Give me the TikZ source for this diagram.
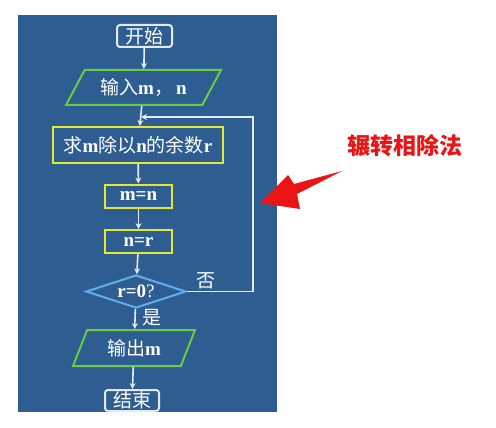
\documentclass[tikz,border=0pt]{standalone}
\usepackage{fontspec}
\setmainfont{Liberation Serif}
\newfontfamily\zh{Noto Sans CJK SC}
\usetikzlibrary{shapes.geometric, arrows.meta}

\definecolor{panel}{RGB}{46,93,146}
\definecolor{boxgreen}{RGB}{105,205,65}
\definecolor{boxyellow}{RGB}{225,232,45}
\definecolor{boxblue}{RGB}{95,175,235}
\definecolor{linewhite}{RGB}{228,234,242}
\definecolor{arrred}{RGB}{235,20,20}

\begin{document}
\begin{tikzpicture}
  [x=1pt, y=-1pt,
   every node/.style={text=white, font=\fontsize{19}{22}\selectfont, line width=2pt, inner sep=1pt},
   term/.style={draw=linewhite, rounded corners=3pt, minimum width=55pt, minimum height=22pt},
   io/.style={trapezium, draw=boxgreen, trapezium stretches body, minimum height=35pt},
   proc/.style={draw=boxyellow, minimum height=23pt},
   test/.style={diamond, draw=boxblue, aspect=3, minimum width=100pt, minimum height=33pt},
   arr/.style={-{Stealth[length=6pt, width=6pt]}, draw=linewhite, line width=1.6pt}]
  \useasboundingbox (0,0) rectangle (496,428);
  \fill[white] (0,0) rectangle (496,428);
  \fill[panel] (18,15) rectangle (277,412);
  \node[term] (start) at (144.5,36) {\zh 开始};
  \node[io, trapezium left angle=47, trapezium right angle=133, minimum width=155pt]
     (input) at (143.5,87.5) {{\zh 输入}\textbf{m}{\zh ，}\,\textbf{n}};
  \node[proc, minimum width=170pt, minimum height=36pt]
     (rem) at (138,145) {{\zh 求}\textbf{m}{\zh 除以}\textbf{n}{\zh 的余数}\textbf{r}};
  \node[proc, minimum width=67pt] (mn) at (138.5,196) {\textbf{m=n}};
  \node[proc, minimum width=67pt] (nr) at (138.5,241.5) {\textbf{n=r}};
  \node[test] (cond) at (136,291.5) {\textbf{r=0}?};
  \node[io, trapezium left angle=54, trapezium right angle=126, minimum width=122pt, minimum height=36pt]
     (out) at (134,348) {{\zh 输出}\textbf{m}};
  \node[term, minimum width=54pt, minimum height=21pt] (stop) at (132,400.5) {\zh 结束};
  \node (lblno) at (206,281) {\zh 否};
  \node (lblyes) at (152,318) {\zh 是};
  \coordinate (corner) at (253,117);
  \coordinate (loopin) at (141,117);
  \draw[arr] (start) -- (input);
  \draw[arr] (input) -- (rem);
  \draw[arr] (rem) -- (mn);
  \draw[arr] (mn) -- (nr);
  \draw[arr] (nr) -- (cond);
  \draw[arr] (cond) -- (out);
  \draw[arr] (out) -- (stop);
  \draw[arr] (cond.east) -| (corner) -- (loopin);
  % red pointer and title
  \node[text=arrred, font=\zh\bfseries\fontsize{23}{26}\selectfont] (title) at (405,146) {辗转相除法};
  \fill[arrred] (260,203) -- (288,175) -- (294,184) -- (342,171) -- (297,194) -- (300,209) -- cycle;
\end{tikzpicture}
\end{document}
